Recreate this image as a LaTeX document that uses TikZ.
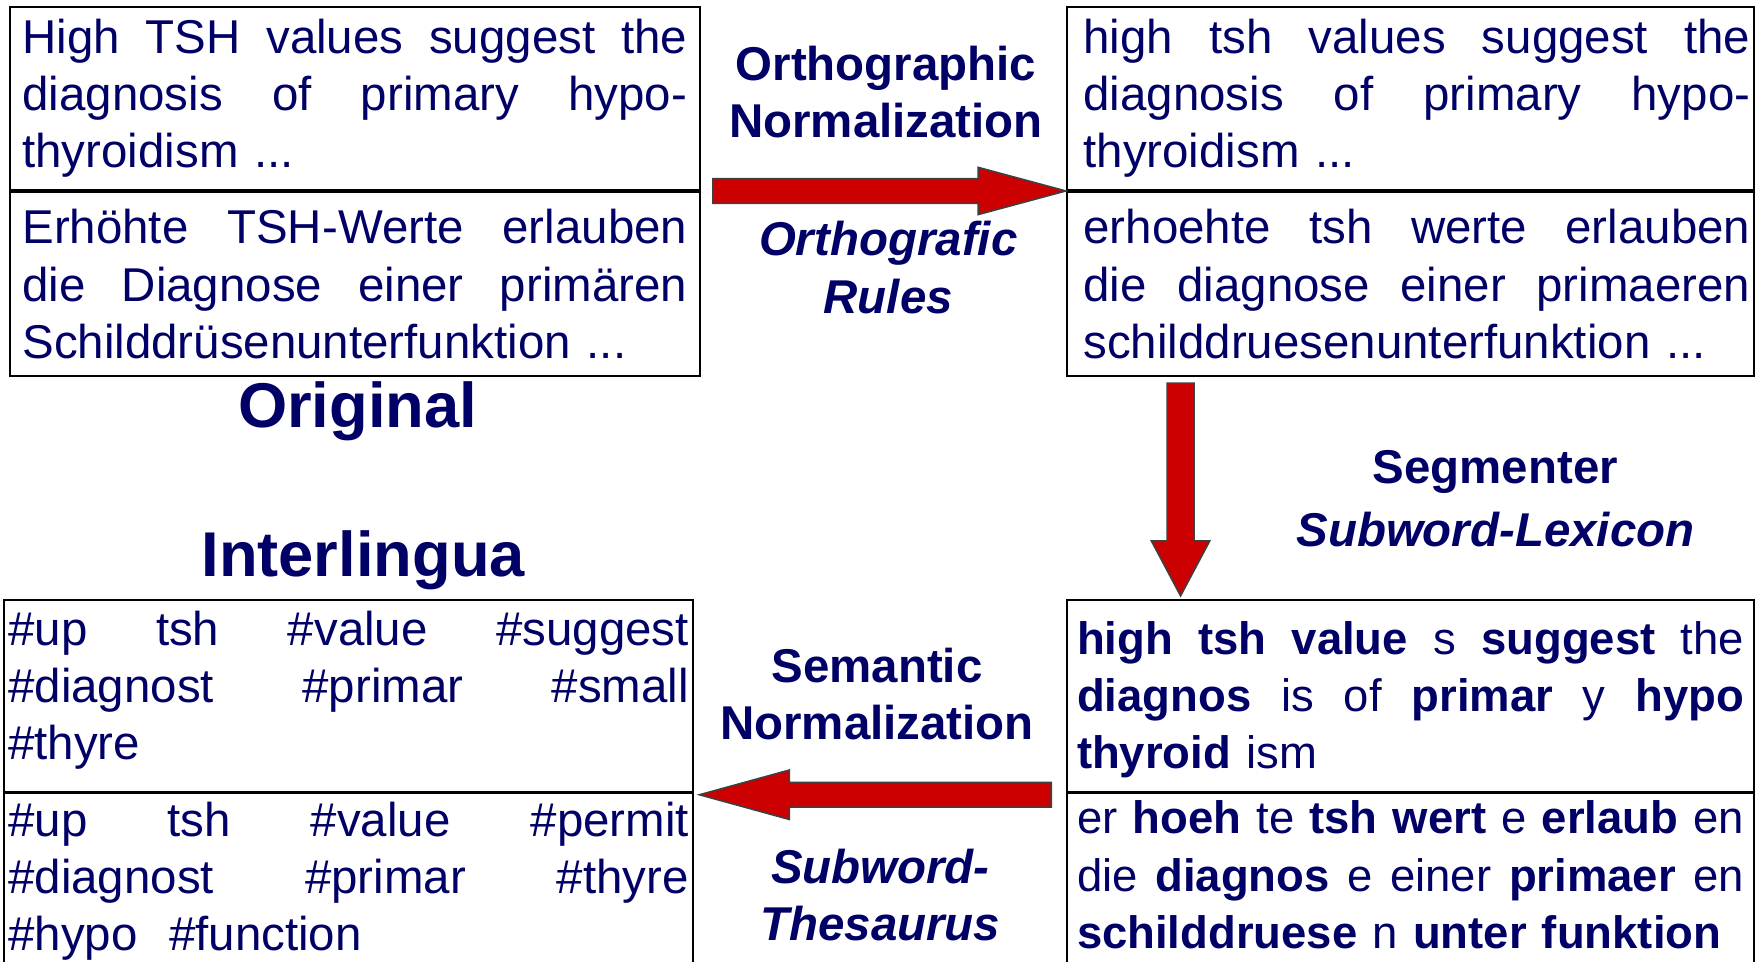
\documentclass[tikz,border=0pt]{standalone}
\usepackage{fontspec}
\setmainfont{Liberation Sans}
\usetikzlibrary{calc}
\definecolor{cNavy}{HTML}{000066}
\definecolor{cRed}{HTML}{CC0000}
\newcommand{\gap}{\hspace{0.12em plus 1fill}}
\newcommand{\indnt}{\hspace*{3.2pt}}

\begin{document}
\begin{tikzpicture}[
  x=0.01cm, y=-0.01cm,
  txtbox/.style={rectangle, draw, line width=0.5pt, inner sep=0pt, anchor=north west,
                 align=left, text=cNavy, font=\fontsize{12pt}{14.5pt}\selectfont},
  segbox/.style={txtbox, font=\fontsize{11.5pt}{14.5pt}\selectfont},
  lbl/.style={align=center, text=cNavy, font=\fontsize{12pt}{14.5pt}\selectfont\bfseries},
  lbli/.style={lbl, font=\fontsize{12pt}{14.5pt}\selectfont\bfseries\itshape},
  title/.style={text=cNavy, font=\fontsize{16pt}{19pt}\selectfont\bfseries},
  blockarr/.style={fill=cRed, draw=black!75, line width=0.4pt, line join=miter},
]
\useasboundingbox (0,0) rectangle (1568,855);
\clip (0,0) rectangle (1568,855);

% ---- Original (top left) ----
\node[txtbox, minimum width=6.13cm, minimum height=1.63cm, text width=5.91cm] (oa) at (8,5)
  {High \hfill TSH \hfill values \hfill suggest \hfill the\\
   diagnosis \hfill of \hfill primary \hfill hypo-\\
   thyroidism ...};
\node[txtbox, minimum width=6.13cm, minimum height=1.64cm, text width=5.91cm] (ob) at (oa.south west)
  {Erhöhte \hfill TSH-Werte \hfill erlauben\\
   die \hfill Diagnose \hfill einer \hfill primären\\
   Schilddrüsenunterfunktion ...};
\node[title] (orig) at (318,366) {Original};

% ---- Normalized (top right) ----
\node[txtbox, minimum width=6.11cm, minimum height=1.63cm, text width=6.04cm] (na) at (948,5)
  {\indnt high \hfill tsh \hfill values \hfill suggest \hfill the\\
   \indnt diagnosis \hfill of \hfill primary \hfill hypo-\\
   \indnt thyroidism ...};
\node[txtbox, minimum width=6.11cm, minimum height=1.64cm, text width=6.04cm] (nb) at (na.south west)
  {\indnt erhoehte \hfill tsh \hfill werte \hfill erlauben\\
   \indnt die \hfill diagnose \hfill einer \hfill primaeren\\
   \indnt schilddruesenunterfunktion ...};

% ---- Segmented (bottom right) ----
\node[segbox, minimum width=6.11cm, minimum height=1.70cm, text width=5.93cm,
      text height=0.36cm] (sa) at (948,533)
  {\textbf{high}\gap\textbf{tsh}\gap\textbf{value}\gap s\gap\textbf{suggest}\gap the\\
   \textbf{diagnos}\gap is\gap of\gap\textbf{primar}\gap y\gap\textbf{hypo}\\
   \textbf{thyroid} ism};
\node[segbox, minimum height=1.60cm, minimum width=6.11cm, text width=5.93cm,
      text depth=33.5pt] (sb) at (sa.south west)
  {er\gap\textbf{hoeh}\gap te\gap\textbf{tsh}\gap\textbf{wert}\gap e\gap\textbf{erlaub}\gap en\\
   die\gap\textbf{diagnos}\gap e\gap einer\gap\textbf{primaer}\gap en\\
   \mbox{\textbf{schilddruese} n \textbf{unter} \textbf{funktion}}};

% ---- Interlingua (bottom left) ----
\node[txtbox, minimum width=6.12cm, minimum height=1.70cm, text width=6.05cm,
      text depth=34.3pt] (ia) at (3,533)
  {\#up \hfill tsh \hfill \#value \hfill \#suggest\\
   \#diagnost \hfill \#primar \hfill \#small\\
   \#thyre};
\node[txtbox, minimum width=6.12cm, minimum height=1.60cm, text width=6.05cm,
      text depth=32.6pt] (ib) at (ia.south west)
  {\#up \hfill tsh \hfill \#value \hfill \#permit\\
   \#diagnost \hfill \#primar \hfill \#thyre\\
   \#hypo \ \#function};
\node[title] (inter) at (323,498) {Interlingua};

% ---- Step labels ----
\node[lbl]  (ortho)  at (788,82)   {Orthographic\\Normalization};
\node[lbli] (rules)  at (790,238)  {Orthografic\\Rules};
\node[lbl]  (segm)   at (1330,420) {Segmenter};
\node[lbli] (lexi)   at (1330,471) {Subword-Lexicon};
\node[lbl]  (sema)   at (780,617)  {Semantic\\Normalization};
\node[lbli] (thes)   at (783,796)  {Subword-\\Thesaurus};

% ---- Block arrows ----
\draw[blockarr] ($(oa.south east)+(11,-11)$) -- ($(na.south west)+(-78,-11)$) -- ++(0,-10)
  -- (na.south west) -- ++(-78,21) -- ++(0,-10) -- ($(oa.south east)+(11,11)$) -- cycle;
\draw[blockarr] ($(nb.south west)+(90,5)$) -- ++(24,0) -- ($(sa.north west)+(114,-52)$) -- ++(14,0)
  -- ($(sa.north west)+(102,-3)$) -- ++(-26,-49) -- ++(14,0) -- cycle;
\draw[blockarr] ($(sa.south west)+(-13,-9)$) -- ($(ia.south east)+(85,-9)$) -- ++(0,-11)
  -- ($(ia.south east)+(5,2)$) -- ++(80,22) -- ++(0,-11) -- ($(sa.south west)+(-13,13)$) -- cycle;

\end{tikzpicture}
\end{document}
